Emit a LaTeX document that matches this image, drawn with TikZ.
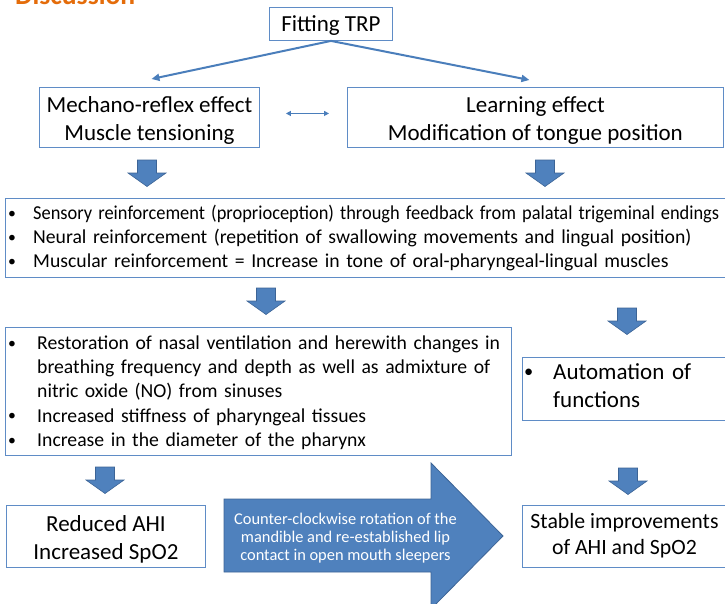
\documentclass[tikz,border=0pt]{standalone}
\usepackage{fontspec}
\usepackage{graphicx}
\setmainfont{Carlito}
\usetikzlibrary{arrows.meta,calc}
\definecolor{ablue}{RGB}{79,129,189}
\definecolor{bline}{RGB}{95,140,198}
\definecolor{adark}{RGB}{60,100,150}
\definecolor{cline}{RGB}{74,126,187}
\definecolor{orng}{RGB}{228,108,10}
\newcommand{\bul}[2]{\hangindent=#1\hangafter=1\makebox[#1][l]{\raisebox{1.2pt}{\scalebox{0.8}{\textbullet}}}#2\par}
\begin{document}
\begin{tikzpicture}[x=1pt,y=-1pt,
  box/.style={draw=bline, line width=0.9pt, fill=white, inner sep=0pt, anchor=north west},
  btext/.style={inner sep=0pt, align=center, font=\fontsize{23}{28}\selectfont},
  listtext/.style={anchor=base west, inner sep=0pt, align=left, font=\fontsize{19.7}{24.2}\selectfont},
  conn/.style={draw=cline, line width=2pt, -{Triangle[length=8pt,width=7pt]}},
  dblconn/.style={draw=cline, line width=1.2pt, {Triangle[length=5pt,width=5pt]}-{Triangle[length=5pt,width=5pt]}},
  dnarr/.pic={\path[fill=ablue, draw=adark, line width=0.6pt]
     (-9.5,0) -- (9.5,0) -- (9.5,13) -- (19,13) -- (0,26.5) -- (-19,13) -- (-9.5,13) -- cycle;},
  bigarrow/.style={fill=ablue, draw=adark, line width=0.8pt}
]
\useasboundingbox (0,0) rectangle (725,603);
\fill[white] (0,0) rectangle (725,603);

% title (cut off at the top, as in the original)
\node[anchor=base west, inner sep=0pt, text=orng, font=\bfseries\fontsize{27.6}{30}\selectfont] (title) at (15,4.5) {Discussion};

% top row
\node[box, minimum width=123, minimum height=33] (fit) at (269,7) {};
\node[btext] (fitt) at ($(fit.center)+(0,2)$) {Fitting TRP};
\node[box, minimum width=220, minimum height=60] (mech) at (39,87) {};
\node[btext] (mecht) at ($(mech.center)+(0,3)$) {Mechano-reflex effect\\Muscle tensioning};
\node[box, minimum width=376, minimum height=60] (learn) at (347,87) {};
\node[btext] (learnt) at ($(learn.center)+(0,3)$) {Learning effect\\Modification of tongue position};

\draw[conn] (fit.south) -- ($(mech.north)+(2,-8)$);
\draw[conn] (fit.south) -- ($(learn.north)+(-6,-7)$);
\draw[dblconn] ($(mech.east)+(26,-4)$) -- ($(learn.west)+(-18,-4)$);

\pic at (147,160) {dnarr};
\pic at (545,160) {dnarr};

% first bullet box
\node[box, minimum width=730, minimum height=79] (b1) at (5,198) {};
\node[listtext, text width=760] (b1t) at (8,219.5) {\raggedright
\bul{25pt}{\resizebox{686pt}{\height}{Sensory reinforcement (proprioception) through feedback from palatal trigeminal endings}}%
\bul{25pt}{Neural reinforcement (repetition of swallowing movements and lingual position)}%
\bul{25pt}{Muscular reinforcement = Increase in tone of oral-pharyngeal-lingual muscles}};

\pic at (266,288) {dnarr};
\pic at (627,308) {dnarr};

% second bullet box
\node[box, minimum width=506, minimum height=128] (b2) at (5,327) {};
\node[listtext, text width=500] (b2t) at (8,349.5) {\raggedright
\bul{29pt}{Restoration of nasal ventilation and herewith changes in\newline breathing frequency and depth as well as admixture of\newline nitric oxide (NO) from sinuses}%
\bul{29pt}{Increased stiffness of pharyngeal tissues}%
\bul{29pt}{Increase in the diameter of the pharynx}};

% automation box
\node[box, minimum width=206, minimum height=63] (auto) at (522,357) {};
\node[listtext, font=\fontsize{23}{28}\selectfont, text width=198] (autot) at (524,379) {\raggedright
\bul{29pt}{Automation of\newline functions}};

\pic at (105,467) {dnarr};
\pic at (628,468) {dnarr};

% bottom row
\node[box, minimum width=199, minimum height=62] (red) at (6,505) {};
\node[btext] (redt) at ($(red.center)+(0,3)$) {Reduced AHI\\Increased SpO2};
\node[box, minimum width=206, minimum height=62] (stab) at (522,505) {};
\node[btext, font=\fontsize{21.8}{26.3}\selectfont] (stabt) at (624.5,536) {Stable improvements\\of AHI and SpO2};

\path[bigarrow] (224,499) -- (431,499) -- (431,463) -- (503,536) -- (431,609) -- (431,572) -- (224,572) -- cycle;
\node[text=white, align=center, inner sep=0pt, font=\fontsize{16.4}{18.3}\selectfont] (bigt) at (345.5,538)
  {Counter-clockwise rotation of the\\mandible and re-established lip\\contact in open mouth sleepers};
\end{tikzpicture}
\end{document}
